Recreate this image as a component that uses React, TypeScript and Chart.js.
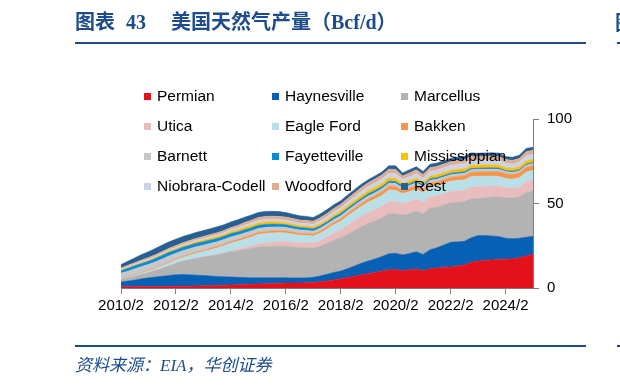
import React, { useEffect, useRef } from "react";
import { Chart, registerables } from "chart.js";

Chart.register(...registerables);

// Quarterly categories from 2010/2 to 2025/2
const labels: string[] = [];
for (let m = 0; m <= 180; m += 3) {
  const y = 2010 + Math.floor((m + 1) / 12);
  const mo = ((m + 1) % 12) + 1;
  labels.push(`${y}/${mo}`);
}

const yTicks = [0, 50, 100];

// Bcf/d, quarterly
const permian = [0.8,0.8,0.8,0.9, 0.9,0.9,0.9,1.0, 1.0,1.1,1.1,1.2, 1.3,1.4,1.5,1.6, 1.8,1.9,2.1,2.2, 2.4,2.5,2.6,2.7, 2.9,2.9,3.0,3.1, 3.3,3.7,4.2,4.8, 5.5,6.2,7.0,7.8, 8.5,9.2,10.0,10.6, 11.0,10.2,10.8,11.2, 10.2,11.4,11.8,12.2, 12.5,13.0,13.6,15.2, 16.0,16.3,16.6,16.8, 17.0,17.2,17.8,19.0, 19.8];
const haynesville = [2.8,3.3,3.9,4.5, 5.1,5.6,6.0,6.4, 6.8,6.9,6.7,6.4, 6.1,5.7,5.3,5.0, 4.7,4.4,4.1,3.8, 3.6,3.5,3.4,3.3, 3.2,3.0,2.9,2.9, 3.0,3.4,3.9,4.4, 4.5,5.2,6.0,6.8, 7.5,8.0,8.6,9.6, 9.5,9.4,9.6,10.2, 9.6,11.2,12.0,13.2, 14.5,14.3,14.0,14.5, 15.0,14.7,14.2,13.6, 12.5,12.0,11.6,11.0, 10.8];
const marcellus = [1.5,1.9,2.3,2.6, 3.0,3.8,4.7,5.7, 6.7,7.8,8.9,10.0, 10.8,11.8,12.8,13.9, 15.0,15.8,16.6,17.4, 18.2,18.5,18.6,18.7, 18.6,18.3,18.0,17.8, 17.3,17.6,18.4,19.2, 19.8,20.4,21.0,21.6, 22.3,22.6,23.0,23.8, 23.5,23.6,23.6,24.0, 24.0,24.6,24.0,23.7, 23.5,23.5,23.4,23.3, 22.0,22.4,23.0,23.5, 24.0,24.0,24.5,26.5, 26.9];
const utica = [0,0,0,0, 0,0,0,0, 0,0,0.05,0.1, 0.15,0.2,0.3,0.4, 0.6,0.8,1.1,1.5, 1.9,2.2,2.5,2.7, 2.8,2.9,2.9,3.0, 3.0,3.3,3.8,4.2, 4.6,5.4,5.8,6.2, 6.4,6.6,6.8,7.2, 7.2,6.8,7.0,7.1, 6.8,6.8,6.7,6.6, 6.6,6.6,6.7,6.8, 7.0,6.8,6.6,6.4, 6.0,5.8,5.9,6.3, 6.4];
const eagleFord = [0.3,0.4,0.5,0.7, 0.9,1.1,1.4,1.7, 2.0,2.3,2.6,2.9, 3.2,3.5,3.8,4.1, 4.4,4.7,5.0,5.3, 5.5,5.6,5.5,5.3, 5.0,4.7,4.4,4.2, 4.1,4.3,4.5,4.8, 5.0,5.4,5.6,5.8, 6.0,6.2,6.4,6.8, 6.5,5.8,5.9,6.0, 5.6,5.9,6.0,6.1, 6.1,6.2,6.2,6.1, 6.0,5.9,5.8,5.7, 5.3,5.3,5.4,5.7, 5.6];
const bakken = [0.2,0.25,0.3,0.35, 0.4,0.45,0.5,0.55, 0.6,0.65,0.7,0.75, 0.8,0.85,0.9,0.95, 1.0,1.05,1.1,1.15, 1.2,1.2,1.2,1.2, 1.2,1.2,1.15,1.15, 1.2,1.25,1.3,1.4, 1.5,1.6,1.7,1.8, 1.9,2.0,2.1,2.2, 2.3,1.7,2.0,2.1, 2.1,2.2,2.2,2.3, 2.3,2.4,2.5,2.6, 2.6,2.7,2.7,2.8, 2.8,2.8,2.9,2.9, 2.9];
const barnett = [3.1,3.3,3.5,3.6, 3.6,3.6,3.6,3.6, 3.4,3.3,3.2,3.1, 3.0,2.9,2.8,2.7, 2.7,2.6,2.55,2.45, 2.4,2.3,2.3,2.2, 2.1,2.05,1.95,1.9, 1.75,1.8,1.7,1.75, 1.8,1.7,1.8,1.8, 1.8,1.8,1.8,1.8, 1.8,1.7,1.7,1.7, 1.6,1.6,1.6,1.6, 1.5,1.5,1.5,1.5, 1.5,1.4,1.4,1.4, 1.3,1.3,1.2,1.2, 1.2];
const fayetteville = [1.5,1.7,1.8,1.9, 1.95,2.05,2.15,2.15, 2.05,2.05,2.05,2.05, 2.05,2.05,1.95,1.95, 2.0,1.9,1.95,1.85, 1.9,1.8,1.7,1.6, 1.6,1.55,1.45,1.5, 1.35,1.4,1.3,1.35, 1.4,1.3,1.3,1.2, 1.3,1.3,1.2,1.2, 1.2,1.1,1.1,1.1, 1.0,1.0,1.0,0.9, 0.9,0.9,0.9,0.8, 0.8,0.8,0.8,0.8, 0.7,0.7,0.7,0.7, 0.7];
const mississippian = [0.25,0.3,0.35,0.4, 0.45,0.5,0.55,0.6, 0.65,0.7,0.75,0.8, 0.85,0.9,0.95,1.0, 1.1,1.2,1.3,1.35, 1.4,1.4,1.35,1.3, 1.25,1.2,1.15,1.1, 1.1,1.15,1.2,1.3, 1.4,1.5,1.6,1.7, 1.8,1.8,1.9,1.9, 1.9,1.5,1.6,1.6, 1.5,1.6,1.6,1.7, 1.7,1.8,1.8,1.8, 1.8,1.9,1.9,1.8, 1.6,1.6,1.7,1.8, 1.8];
const niobrara = [0.6,0.6,0.65,0.65, 0.7,0.7,0.75,0.75, 0.8,0.85,0.9,0.95, 1.0,1.05,1.1,1.15, 1.2,1.3,1.4,1.5, 1.5,1.5,1.5,1.5, 1.5,1.5,1.5,1.5, 1.6,1.7,1.8,1.9, 2.0,2.1,2.2,2.4, 2.5,2.6,2.7,2.8, 2.9,2.4,2.6,2.7, 2.6,2.7,2.8,2.8, 2.9,3.0,3.0,3.0, 2.8,2.8,2.8,2.8, 2.7,2.7,2.8,3.0, 3.0];
const woodford = [0.8,0.85,0.9,0.95, 1.0,1.0,1.05,1.05, 1.1,1.1,1.15,1.2, 1.2,1.25,1.3,1.3, 1.3,1.4,1.5,1.6, 1.7,1.8,1.8,1.8, 1.8,1.8,1.8,1.8, 1.8,1.9,2.0,2.0, 2.0,2.1,2.2,2.3, 2.3,2.4,2.4,2.4, 2.3,2.0,2.1,2.2, 2.1,2.2,2.2,2.2, 2.2,2.3,2.3,2.3, 2.2,2.2,2.2,2.2, 2.1,2.1,2.2,2.5, 2.4];
const rest = [2.0,2.4,2.8,3.2, 3.5,3.7,3.8,3.8, 3.8,3.7,3.6,3.5, 3.5,3.5,3.5,3.4, 3.3,3.3,3.2,3.1, 3.0,3.0,2.9,2.9, 2.7,2.6,2.5,2.4, 2.2,2.3,2.3,2.2, 2.1,2.1,2.0,2.0, 1.8,1.8,1.8,2.0, 2.2,1.9,1.9,1.9, 1.9,2.0,2.0,2.0, 2.0,2.0,2.0,2.0, 2.0,2.0,2.0,2.0, 1.8,1.8,1.8,2.0, 1.8];

const seriesNames = ["Permian","Haynesville","Marcellus","Utica","Eagle Ford","Bakken","Barnett","Fayetteville","Mississippian","Niobrara-Codell","Woodford","Rest"];
const seriesData = [permian,haynesville,marcellus,utica,eagleFord,bakken,barnett,fayetteville,mississippian,niobrara,woodford,rest];
const seriesColors = ["#e3111b","#0860b5","#b3b3b3","#e9bdbd","#b9dfe9","#f7964a","#c8c8c8","#0a8bd5","#ffc000","#ccd3e8","#dfae92","#275f93"];

const FONT = '"Liberation Sans", Arial, sans-serif';
const BLUE = "#1d4c8c";

export default function App() {
  const ref = useRef<HTMLCanvasElement | null>(null);

  useEffect(() => {
    if (!ref.current) return;
    const chart = new Chart(ref.current, {
      type: "line",
      data: {
        labels,
        datasets: seriesNames.map((name, i) => ({
          label: name,
          data: seriesData[i],
          backgroundColor: seriesColors[i],
          borderColor: seriesColors[i],
          borderWidth: 0.6,
          pointRadius: 0,
          fill: i === 0 ? "origin" : "-1",
          tension: 0,
        })),
      },
      options: {
        animation: false,
        responsive: false,
        devicePixelRatio: 1,
        layout: { padding: { left: 121, top: 119, right: 0, bottom: 0 } },
        plugins: { legend: { display: false }, tooltip: { enabled: false } },
        scales: {
          x: {
            type: "category",
            offset: false,
            grid: { display: true, drawOnChartArea: false, drawTicks: true, tickLength: 6, color: "#7f7f7f" },
            border: { display: true, color: "#7f7f7f", width: 1 },
            ticks: {
              autoSkip: false,
              maxRotation: 0,
              minRotation: 0,
              color: "#000",
              padding: 3,
              font: { family: FONT, size: 15 },
              callback: (_v: any, i: number) => (i % 8 === 0 ? labels[i] : null),
            },
            afterFit: (s: any) => { s.height = 99; },
          },
          y: {
            position: "right",
            stacked: true,
            min: 0,
            max: 100,
            afterBuildTicks: (s: any) => { s.ticks = yTicks.map((v) => ({ value: v })); },
            grid: { display: true, drawOnChartArea: false, drawTicks: true, tickLength: 6, color: "#7f7f7f" },
            border: { display: true, color: "#7f7f7f", width: 1 },
            ticks: { color: "#000", padding: 8, font: { family: FONT, size: 15 } },
            afterFit: (s: any) => { s.width = 87; },
          },
        },
      },
    });
    return () => chart.destroy();
  }, []);

  const legendCols = [144, 272, 401];
  const legendRows = [96, 126, 156, 186];

  return (
    <div style={{ position: "fixed", left: 0, top: 0, width: 620, height: 387, background: "#fff", overflow: "hidden" }}>
      <canvas ref={ref} width={620} height={387} style={{ position: "absolute", left: 0, top: 0, width: 620, height: 387 }} />
      {/* title */}
      <div style={{ position: "absolute", top: 10, left: 75, fontFamily: '"Liberation Serif", "Noto Sans CJK SC", serif', fontWeight: 700, fontSize: 20, color: BLUE, whiteSpace: "nowrap", lineHeight: "24px" }}>
        <span style={{ position: "absolute", left: 0 }}>图表</span>
        <span style={{ position: "absolute", left: 51 }}>43</span>
        <span style={{ position: "absolute", left: 96 }}>美国天然气产量（Bcf/d）</span>
      </div>
      <div style={{ position: "absolute", top: 42, left: 75, width: 511, height: 2, background: BLUE }} />
      <div style={{ position: "absolute", top: 42, left: 617, width: 3, height: 2, background: BLUE }} />
      <div style={{ position: "absolute", top: 10, left: 613, width: 7, overflow: "hidden", fontFamily: '"Noto Sans CJK SC", serif', fontWeight: 700, fontSize: 20, lineHeight: "24px", color: BLUE }}>
        <span style={{ marginLeft: 2 }}>图</span>
      </div>
      {/* legend */}
      {seriesNames.map((name, i) => {
        const col = i % 3;
        const row = Math.floor(i / 3);
        const x = legendCols[col];
        const y = legendRows[row];
        return (
          <div key={name} style={{ position: "absolute", left: x, top: y - 10, height: 20, display: "flex", alignItems: "center", whiteSpace: "nowrap", fontFamily: FONT, fontSize: 15.5, color: "#000" }}>
            <span style={{ display: "inline-block", width: 7, height: 7, background: seriesColors[i], marginRight: 6 }} />
            <span>{name}</span>
          </div>
        );
      })}
      {/* footer */}
      <div style={{ position: "absolute", top: 345, left: 75, width: 511, height: 2, background: BLUE }} />
      <div style={{ position: "absolute", top: 345, left: 617, width: 3, height: 2, background: BLUE }} />
      <div style={{ position: "absolute", top: 355, left: 75, fontFamily: '"Liberation Serif", "Noto Sans CJK SC", serif', fontStyle: "italic", fontSize: 17, color: BLUE, whiteSpace: "nowrap", lineHeight: "22px" }}>
        资料来源：EIA，华创证券
      </div>
    </div>
  );
}
